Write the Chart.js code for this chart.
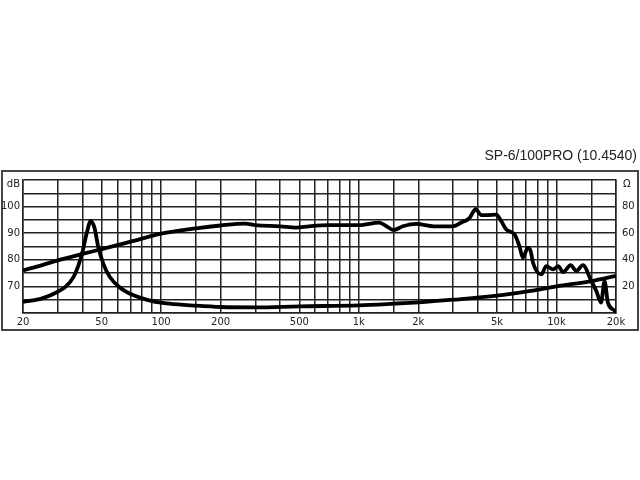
<!DOCTYPE html>
<html>
<head>
<meta charset="utf-8">
<script src="https://cdn.jsdelivr.net/npm/chart.js@4/dist/chart.umd.min.js"></script>
<style>
  body { margin: 0; background: #fff; }
  canvas { display: block; }
</style>
</head>
<body>
<canvas id="chart" width="640" height="480"></canvas>
<script>
// frequency response (dB)
const splFreq = [20, 25, 30, 40, 50, 70, 100, 150, 200, 265, 300, 400, 480, 560, 700, 1000,
  1270, 1380, 1500, 1670, 1950, 2400, 3000, 3300, 3630, 3900, 4170, 4420, 4960, 5260, 5570,
  6140, 6500, 6760, 7160, 7400, 7600, 8380, 8880, 9600, 10200, 10800, 11800, 12600, 13600,
  15000, 15900, 16800, 17500, 18200, 19700, 20000];
const splDb = [76, 78, 79.8, 82.2, 84, 86.8, 89.8, 91.8, 92.9, 93.6, 93, 92.6, 92.1, 92.6, 93, 93,
  94, 92.6, 91.2, 92.6, 93.5, 92.6, 92.6, 94, 95.7, 99, 96.8, 96.8, 97, 94.5, 91.4,
  89.5, 85, 80.8, 84.5, 83.3, 79, 74.5, 77.6, 76.4, 77.6, 75.4, 78, 75.8, 78,
  72, 68.3, 63.9, 72, 63.9, 60.8, 60];

// impedance (ohm)
const impFreq = [20, 25, 30, 33, 36, 38, 40, 42, 44, 46, 48, 51, 55, 62, 72, 90, 110, 150, 200,
  300, 500, 1000, 1500, 2000, 3000, 5000, 7000, 10000, 15000, 20000];
const impOhm = [8.3, 11, 16, 20, 27, 35, 46, 60, 69, 64, 50, 37, 27, 19, 13.5, 9, 7, 5.5, 4.5,
  4.2, 5, 5.8, 7, 8, 10, 13, 16, 20, 24, 28];

const gridFreqs = [20, 30, 40, 50, 60, 70, 80, 90, 100, 150, 200, 300, 400, 500, 600, 700, 800, 900,
  1000, 1500, 2000, 3000, 4000, 5000, 6000, 7000, 8000, 9000, 10000, 15000, 20000];
const freqLabels = {20: '20', 50: '50', 100: '100', 200: '200', 500: '500', 1000: '1k',
  2000: '2k', 5000: '5k', 10000: '10k', 20000: '20k'};
const dbLabels = [70, 80, 90, 100];
const ohmLabels = [20, 40, 60, 80];

const title = 'SP-6/100PRO (10.4540)';
const gridColor = '#222';
const labelFont = { family: 'DejaVu Sans', size: 10 };

const frame = {
  id: 'frame',
  beforeDraw(chart) {
    const ctx = chart.ctx;
    ctx.save();
    ctx.fillStyle = '#fff';
    ctx.fillRect(0, 0, chart.width, chart.height);
    ctx.strokeStyle = '#444';
    ctx.lineWidth = 2;
    ctx.strokeRect(2, 171, 636, 159);
    ctx.restore();
  },
  afterDraw(chart) {
    const ctx = chart.ctx;
    const a = chart.chartArea;
    ctx.save();
    ctx.fillStyle = '#222';
    ctx.font = '14px "Liberation Sans"';
    ctx.textAlign = 'right';
    ctx.textBaseline = 'alphabetic';
    ctx.fillText(title, 637, 160);
    ctx.font = '10px "DejaVu Sans"';
    ctx.textBaseline = 'middle';
    ctx.fillText('dB', a.left - 3, a.top + 4);
    ctx.textAlign = 'left';
    ctx.fillText('\u03A9', a.right + 7, a.top + 4);
    ctx.restore();
  }
};

new Chart(document.getElementById('chart'), {
  type: 'line',
  data: {
    datasets: [{
      label: 'SPL',
      data: splFreq.map((f, i) => ({ x: f, y: splDb[i] })),
      yAxisID: 'y',
      borderColor: '#000',
      borderWidth: 3.8,
      pointRadius: 0,
      cubicInterpolationMode: 'monotone'
    }, {
      label: 'Impedance',
      data: impFreq.map((f, i) => ({ x: f, y: impOhm[i] })),
      yAxisID: 'y1',
      borderColor: '#000',
      borderWidth: 3.8,
      pointRadius: 0,
      cubicInterpolationMode: 'monotone'
    }]
  },
  options: {
    responsive: false,
    animation: false,
    layout: { padding: { top: 180, left: 0, right: 0, bottom: 0 } },
    plugins: { legend: { display: false }, tooltip: { enabled: false }, title: { display: false } },
    scales: {
      x: {
        type: 'logarithmic',
        min: 20,
        max: 20000,
        afterBuildTicks: s => { s.ticks = gridFreqs.map(v => ({ value: v })); },
        afterFit: s => { s.height = 480 - 313; },
        grid: { color: gridColor, lineWidth: 1.5, drawTicks: false },
        border: { color: gridColor, width: 1.5 },
        ticks: {
          autoSkip: false,
          maxRotation: 0,
          padding: 3,
          color: '#222',
          font: labelFont,
          callback: v => freqLabels[v] || ''
        }
      },
      y: {
        position: 'left',
        min: 60,
        max: 110,
        afterFit: s => { s.width = 23; },
        grid: { color: gridColor, lineWidth: 1.5, drawTicks: false },
        border: { color: gridColor, width: 1.5 },
        ticks: {
          stepSize: 5,
          autoSkip: false,
          padding: 3,
          color: '#222',
          font: labelFont,
          callback: v => dbLabels.includes(v) ? String(v) : ''
        }
      },
      y1: {
        position: 'right',
        min: 0,
        max: 100,
        afterFit: s => { s.width = 24; },
        grid: { drawOnChartArea: false, drawTicks: false },
        border: { color: gridColor, width: 1.5 },
        ticks: {
          stepSize: 10,
          autoSkip: false,
          padding: 6,
          color: '#222',
          font: labelFont,
          callback: v => ohmLabels.includes(v) ? String(v) : ''
        }
      }
    }
  },
  plugins: [frame]
});
</script>
</body>
</html>
